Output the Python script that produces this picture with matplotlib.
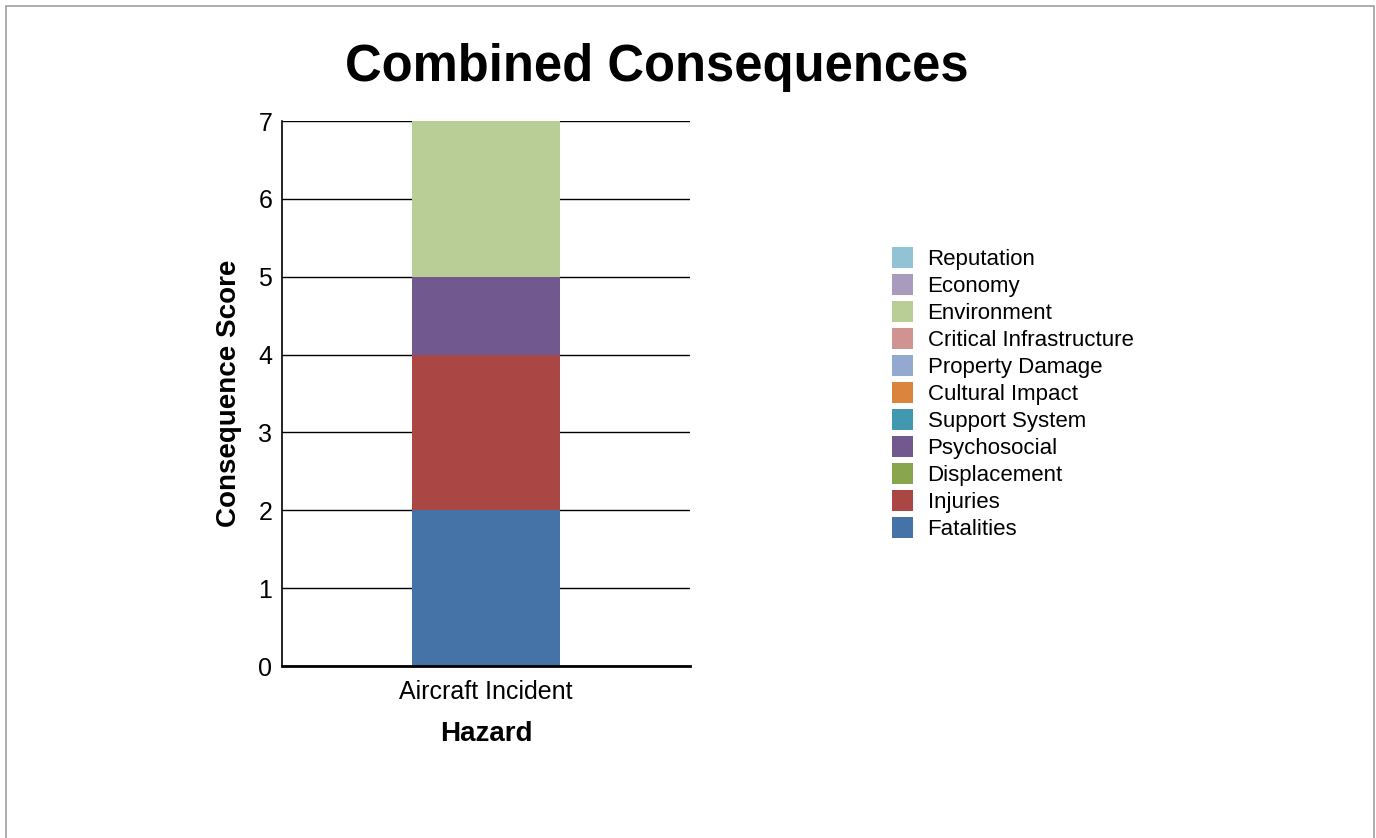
import matplotlib.pyplot as plt
from matplotlib.patches import Rectangle

plt.rcParams['font.family'] = ['Liberation Sans', 'DejaVu Sans']

hazards = ['Aircraft Incident']
categories = ['Fatalities', 'Injuries', 'Displacement', 'Psychosocial', 'Support System',
              'Cultural Impact', 'Property Damage', 'Critical Infrastructure',
              'Environment', 'Economy', 'Reputation']
scores = [2, 2, 0, 1, 0, 0, 0, 0, 2, 0, 0]
colors = ['#4572a7', '#aa4643', '#89a54e', '#71588f', '#4198af', '#db843d',
          '#93a9cf', '#d19392', '#b9cd96', '#a99bbd', '#92c3d4']

fig = plt.figure(figsize=(13.76, 8.38), dpi=100)
ax = fig.add_axes([282 / 1376, 1 - 666 / 838, 408 / 1376, 545 / 838])

# rahmen
fig.patches.append(Rectangle((6 / 1376, -0.1), 1368 / 1376, 1.1 - 6 / 838,
                             transform=fig.transFigure, fill=False,
                             edgecolor='#a0a0a0', linewidth=1.2))

bottom = 0
handles = []
for cat, val, col in zip(categories, scores, colors):
    b = ax.bar(hazards, [val], bottom=bottom, width=0.8, color=col, label=cat, zorder=2)
    handles.append(b)
    bottom += val

ax.set_xlim(-1.11, 1.11)
ax.set_ylim(0, 7)
ax.set_yticks(range(0, 8))
ax.yaxis.grid(True, color='black', linewidth=1, zorder=0)
ax.set_axisbelow(True)
ax.tick_params(axis='both', length=0, labelsize=18)
ax.tick_params(axis='y', pad=7)
ax.tick_params(axis='x', pad=10)
for s in ['top', 'right']:
    ax.spines[s].set_visible(False)
ax.spines['left'].set_linewidth(1.2)
ax.spines['bottom'].set_linewidth(2)

ax.set_ylabel('Consequence Score', fontsize=20, fontweight='bold', labelpad=12)
ax.set_xlabel('Hazard', fontsize=20, fontweight='bold', labelpad=12)
fig.text(657 / 1376, 1 - 68 / 838, 'Combined Consequences', fontsize=36.5,
         fontweight='bold', ha='center', va='center')

fig.legend(handles[::-1], categories[::-1], loc='upper left',
           bbox_to_anchor=(892 / 1376, 1 - 247 / 838), frameon=False,
           fontsize=16, handlelength=0.95, handleheight=1.1, borderpad=0,
           borderaxespad=0, labelspacing=0.17, handletextpad=0.65)

fig.savefig('out.png', dpi=100)
